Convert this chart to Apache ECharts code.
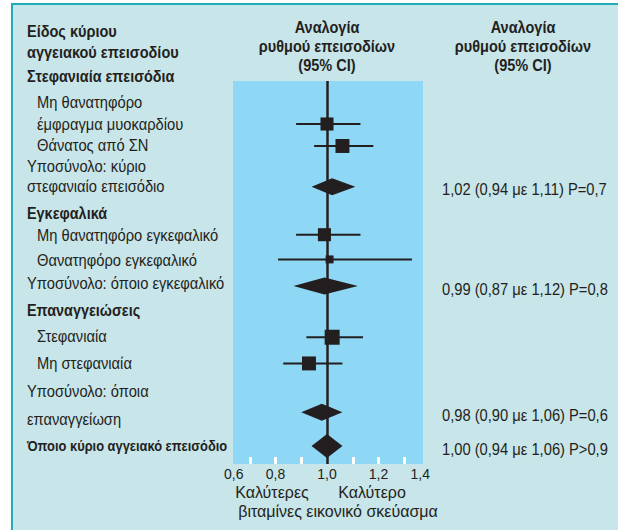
<!DOCTYPE html>
<html>
<head>
<meta charset="utf-8">
<script src="https://cdn.jsdelivr.net/npm/echarts@6/dist/echarts.min.js"></script>
<style>
  html, body { margin: 0; padding: 0; background: #ffffff; }
  #chart { width: 618px; height: 530px; }
</style>
</head>
<body>
<div id="chart"></div>
<script>
  // γραμμές αριστερής στήλης και η θέση τους (σε μονάδες γραμμής του άξονα y)
  const labelText = [
    'Στεφανιαία επεισόδια',
    'Μη θανατηφόρο',
    'έμφραγμα μυοκαρδίου',
    'Θάνατος από ΣΝ',
    'Υποσύνολο: κύριο',
    'στεφανιαίο επεισόδιο',
    'Εγκεφαλικά',
    'Μη θανατηφόρο εγκεφαλικό',
    'Θανατηφόρο εγκεφαλικό',
    'Υποσύνολο: όποιο εγκεφαλικό',
    'Επαναγγειώσεις',
    'Στεφανιαία',
    'Μη στεφανιαία',
    'Υποσύνολο: όποια',
    'επαναγγείωση',
    'Όποιο κύριο αγγειακό επεισόδιο',
  ];
  const labelRow = [-0.2, 0.88, 1.74, 2.59, 3.44, 4.28, 5.35, 6.23, 7.24, 8.19, 9.27, 10.35, 11.42, 12.57, 13.68, 14.77];
  // g = ομάδα, i = επιμέρους, s = υποσύνολο, t = σύνολο
  const labelKind = ['g', 'i', 'i', 'i', 's', 's', 'g', 'i', 'i', 's', 'g', 'i', 'i', 's', 's', 't'];

  // επιμέρους εκβάσεις
  const estRow = [1.74, 2.63, 6.22, 7.22, 10.37, 11.43];
  const est = [1.00, 1.06, 0.99, 1.01, 1.02, 0.93];
  const estLo = [0.88, 0.95, 0.88, 0.81, 0.92, 0.83];
  const estHi = [1.13, 1.18, 1.13, 1.33, 1.14, 1.06];
  const estWeight = [0.87, 0.93, 0.87, 0.53, 1.0, 0.93];

  // υποσύνολα και σύνολο
  const sumRow = [4.28, 8.3, 13.41, 14.77];
  const sumEst = [1.02, 0.99, 0.98, 1.00];
  const sumLo = [0.94, 0.87, 0.90, 0.94];
  const sumHi = [1.11, 1.12, 1.06, 1.06];
  const sumP = ['P=0,7', 'P=0,8', 'P=0,6', 'P>0,9'];

  const xLabels = [0.6, 0.8, 1.0, 1.2, 1.4];
  const xTicks = [0.7, 0.8, 0.9, 1.1, 1.2, 1.3];

  const ink = '#231f20';
  const font = '"Liberation Sans", Arial, sans-serif';
  const comma = (v, d) => v.toFixed(d).replace('.', ',');

  const myChart = echarts.init(document.getElementById('chart'), null, { renderer: 'svg' });

  // το πρωτότυπο έχει στενή γραμματοσειρά, οπότε στενεύουμε με scaleX
  const textEl = (text, x, y, css, squeeze, align, lineHeight) => ({
    type: 'text',
    x: x,
    y: y,
    scaleX: squeeze,
    style: {
      text: text,
      fill: ink,
      font: css + ' ' + font,
      textAlign: align || 'left',
      textVerticalAlign: 'middle',
      lineHeight: lineHeight,
    },
  });

  const renderLabel = (params, api) => {
    const kind = labelKind[params.dataIndex];
    const y = api.coord([1, api.value(1)])[1];
    const x = kind === 'i' ? 37 : 27;
    if (kind === 't') return textEl(labelText[params.dataIndex], x, y, 'bold 14px', 0.92);
    if (kind === 'g') return textEl(labelText[params.dataIndex], x, y, 'bold 16px', 0.9);
    return textEl(labelText[params.dataIndex], x, y, '16px', 0.92);
  };

  const renderEst = (params, api) => {
    const c = api.coord([api.value(0), api.value(3)]);
    const l = api.coord([api.value(1), api.value(3)]);
    const h = api.coord([api.value(2), api.value(3)]);
    const s = 15 * api.value(4);
    return {
      type: 'group',
      children: [
        { type: 'line', shape: { x1: l[0], y1: c[1], x2: h[0], y2: c[1] }, style: { stroke: ink, lineWidth: 2 } },
        { type: 'rect', shape: { x: c[0] - s / 2, y: c[1] - s / 2, width: s, height: s }, style: { fill: ink } },
      ],
    };
  };

  const renderSum = (params, api) => {
    const i = params.dataIndex;
    const c = api.coord([api.value(0), api.value(3)]);
    const l = api.coord([api.value(1), api.value(3)]);
    const h = api.coord([api.value(2), api.value(3)]);
    const hh = i === sumEst.length - 1 ? 12 : 8.5;
    const txt = comma(sumEst[i], 2) + ' (' + comma(sumLo[i], 2) + ' με ' + comma(sumHi[i], 2) + ') ' + sumP[i];
    return {
      type: 'group',
      children: [
        {
          type: 'polygon',
          shape: { points: [[l[0], c[1]], [c[0], c[1] - hh], [h[0], c[1]], [c[0], c[1] + hh]] },
          style: { fill: ink },
        },
        textEl(txt, 442, c[1] + 3, '16px', 0.92),
      ],
    };
  };

  myChart.setOption({
    animation: false,
    backgroundColor: '#ffffff',
    grid: { left: 224, right: 188, top: 81, bottom: 66 },
    xAxis: {
      type: 'value',
      min: 0.6,
      max: 1.4,
      splitLine: { show: false },
      axisLine: { show: false, onZero: false },
      axisTick: {
        show: true,
        inside: true,
        length: 7,
        customValues: xTicks,
        lineStyle: { color: '#ffffff', width: 3 },
      },
      axisLabel: {
        customValues: xLabels,
        margin: 3,
        color: ink,
        fontSize: 14,
        fontFamily: font,
        alignMinLabel: 'left',
        alignMaxLabel: 'right',
        formatter: (v) => comma(v, 1),
      },
    },
    yAxis: { type: 'value', inverse: true, min: 0, max: 15.5, show: false },
    graphic: [
      { type: 'rect', z: -10, shape: { x: 11, y: 3, width: 607, height: 527 }, style: { fill: '#c8e5e9' } },
      { type: 'line', z: -9, shape: { x1: 12, y1: 3, x2: 12, y2: 530 }, style: { stroke: '#22adb6', lineWidth: 2 } },
      { type: 'line', z: -9, shape: { x1: 11, y1: 4, x2: 618, y2: 4 }, style: { stroke: '#22adb6', lineWidth: 2 } },
      { type: 'rect', z: -8, shape: { x: 233, y: 81, width: 190, height: 383 }, style: { fill: '#8ed7f5' } },
      textEl('Είδος κύριου\nαγγειακού επεισοδίου', 27, 42, 'bold 16.5px', 0.88, 'left', 21),
      textEl('Αναλογία\nρυθμού επεισοδίων\n(95% CI)', 327, 46, 'bold 16.5px', 0.88, 'center', 19),
      textEl('Αναλογία\nρυθμού επεισοδίων\n(95% CI)', 523, 46, 'bold 16.5px', 0.88, 'center', 19),
      textEl('Καλύτερες', 272, 492, '16px', 1, 'center'),
      textEl('Καλύτερο', 372, 492, '16px', 1, 'center'),
      textEl('βιταμίνες εικονικό σκεύασμα', 338, 511, '16px', 1, 'center'),
    ],
    series: [
      {
        type: 'custom',
        name: 'labels',
        silent: true,
        clip: false,
        renderItem: renderLabel,
        encode: { x: 0, y: 1 },
        data: labelRow.map((r) => [1, r]),
      },
      {
        type: 'custom',
        name: 'estimates',
        clip: false,
        renderItem: renderEst,
        encode: { x: [0, 1, 2], y: 3 },
        data: est.map((v, i) => [v, estLo[i], estHi[i], estRow[i], estWeight[i]]),
        markLine: {
          silent: true,
          symbol: 'none',
          label: { show: false },
          lineStyle: { color: ink, width: 2.5, type: 'solid' },
          data: [{ xAxis: 1 }],
        },
      },
      {
        type: 'custom',
        name: 'subtotals',
        clip: false,
        renderItem: renderSum,
        encode: { x: [0, 1, 2], y: 3 },
        data: sumEst.map((v, i) => [v, sumLo[i], sumHi[i], sumRow[i]]),
      },
    ],
  });

  window.addEventListener('resize', function () {
    myChart && myChart.resize();
  });
</script>
</body>
</html>
